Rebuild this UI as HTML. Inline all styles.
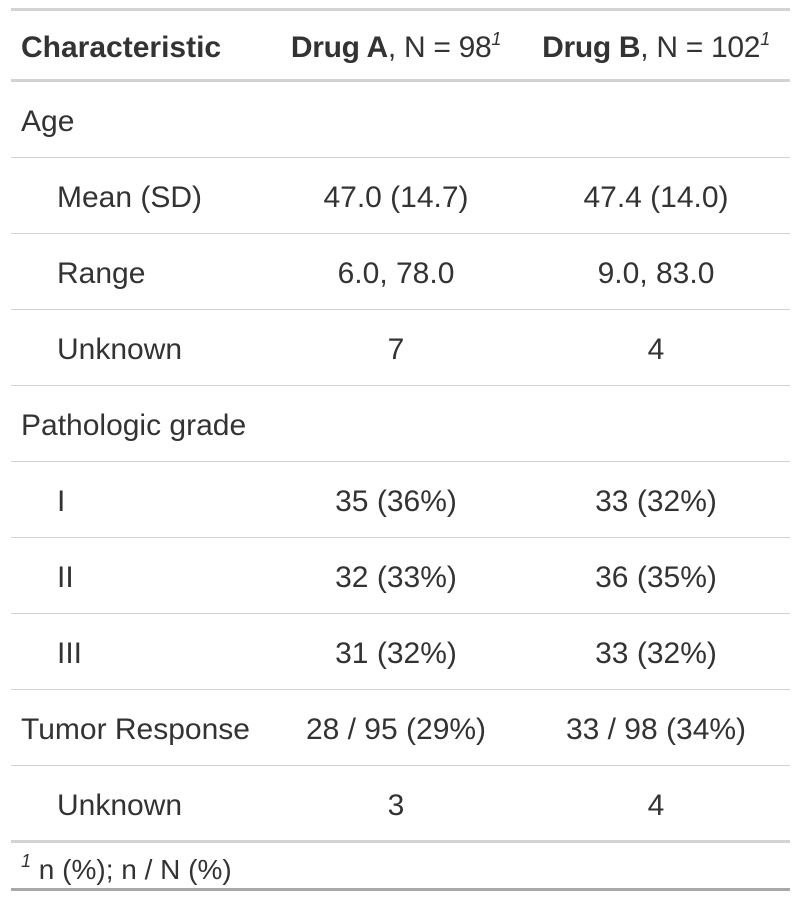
<!DOCTYPE html>
<html><head><meta charset="utf-8"><style>
body{margin:0;background:#fff;width:800px;height:900px;position:relative;font-family:"Liberation Sans",sans-serif;color:#333;overflow:hidden}
.h{position:absolute;left:11px;width:779px;background:#d3d3d3}
.c{position:absolute;font-size:30px;line-height:34px;white-space:nowrap}
.l{left:21px}.i{left:57px}
.a{left:271px;width:250px;text-align:center}
.b{left:522px;width:268px;text-align:center}
sup{font-size:18px;font-style:italic;vertical-align:12px;line-height:0}
</style></head><body>
<div class="h" style="top:8px;height:3px"></div>
<div class="h" style="top:79px;height:3px"></div>
<div class="c l" style="top:31px;font-weight:bold;font-size:30px">Characteristic</div>
<div class="c a" style="top:31px;font-size:30px;letter-spacing:-0.3px"><b>Drug A</b>, N = 98<sup>1</sup></div>
<div class="c b" style="top:31px;font-size:30px;letter-spacing:-0.3px"><b>Drug B</b>, N = 102<sup>1</sup></div>
<div id="rows"></div>
<div class="h" style="top:840px;height:3px"></div>
<div class="c" style="left:21px;top:853px;font-size:28px"><sup>1</sup> n (%); n / N (%)</div>
<div class="h" style="top:888px;height:3px;background:#a8a8a8"></div>
<script>
const labels=["Age","Mean (SD)","Range","Unknown","Pathologic grade","I","II","III","Tumor Response","Unknown"];
const indent=[0,1,1,1,0,1,1,1,0,1];
const colA=["","47.0 (14.7)","6.0, 78.0","7","","35 (36%)","32 (33%)","31 (32%)","28 / 95 (29%)","3"];
const colB=["","47.4 (14.0)","9.0, 83.0","4","","33 (32%)","36 (35%)","33 (32%)","33 / 98 (34%)","4"];
const root=document.getElementById('rows');
labels.forEach((t,k)=>{
  const top=82+k*76;
  if(k>0){const ln=document.createElement('div');ln.className='h';ln.style.top=(top-1)+'px';ln.style.height='1px';
  
  
  root.appendChild(ln);}
  const y=top+23;
  const a=document.createElement('div');a.className='c '+(indent[k]?'i':'l');a.style.top=y+'px';a.textContent=t;
  
  
  root.appendChild(a);
  const b=document.createElement('div');b.className='c a';b.style.top=y+'px';b.textContent=colA[k];
  
  
  root.appendChild(b);
  const c=document.createElement('div');c.className='c b';c.style.top=y+'px';c.textContent=colB[k];
  
  
  root.appendChild(c);
});
</script>
</body></html>
